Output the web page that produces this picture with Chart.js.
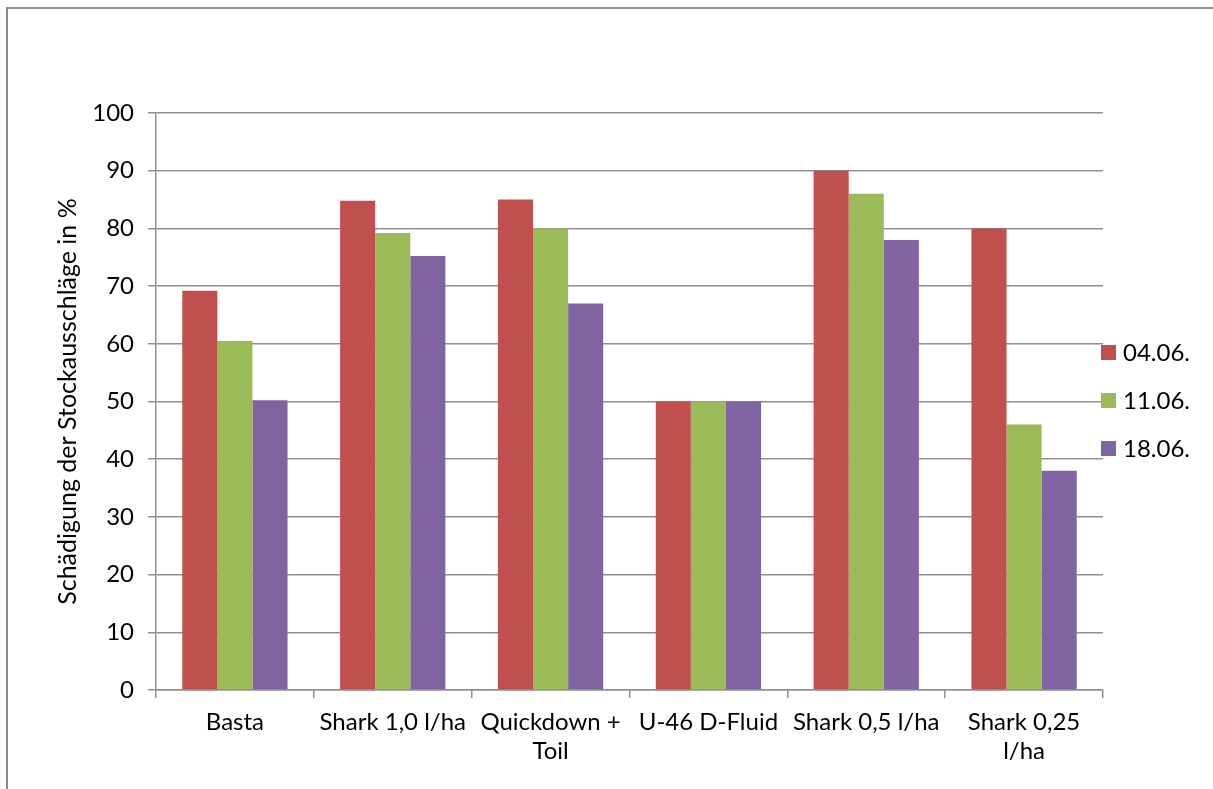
<!DOCTYPE html>
<html>
<head>
<meta charset="utf-8">
<script src="https://cdn.jsdelivr.net/npm/chart.js@4"></script>
<style>
    html, body { margin: 0; padding: 0; background: #fff; overflow: hidden; }
</style>
</head>
<body>
<canvas id="damageChart" width="1213" height="789"></canvas>
<script>
// Chart data
const categories = ['Basta', 'Shark 1,0 l/ha', ['Quickdown +', 'Toil'], 'U-46 D-Fluid', 'Shark 0,5 l/ha', ['Shark 0,25', 'l/ha']];
const seriesLabels = ['04.06.', '11.06.', '18.06.'];
const values0406 = [69.2, 84.8, 85, 50, 90, 80];
const values1106 = [60.5, 79.2, 80, 50, 86, 46];
const values1806 = [50.2, 75.2, 67, 50, 78, 38];
const yTicks = [0, 10, 20, 30, 40, 50, 60, 70, 80, 90, 100];

const colors = ['#C0504D', '#9BBB59', '#8064A2'];
const gridColor = '#909090';

Chart.defaults.font.family = 'Lato, "Open Sans", sans-serif';
Chart.defaults.font.size = 24;
Chart.defaults.color = '#000';

// Outer frame (only left and top edges are visible in the original)
const outerFrame = {
    id: 'outerFrame',
    beforeDraw(chart) {
        const ctx = chart.ctx;
        ctx.save();
        ctx.strokeStyle = '#8c8c8c';
        ctx.lineWidth = 2;
        ctx.beginPath();
        ctx.moveTo(7, chart.height + 5);
        ctx.lineTo(7, 8);
        ctx.lineTo(chart.width + 5, 8);
        ctx.stroke();
        ctx.restore();
    }
};

// Legend drawn next to the plot, like the original
const sideLegend = {
    id: 'sideLegend',
    afterDraw(chart) {
        const ctx = chart.ctx;
        const area = chart.chartArea;
        const cy = (area.top + area.bottom) / 2 - 1;
        ctx.save();
        ctx.font = '24px Lato, "Open Sans", sans-serif';
        ctx.textBaseline = 'middle';
        chart.data.datasets.forEach((ds, i) => {
            const y = cy + (i - 1) * 48;
            ctx.fillStyle = ds.backgroundColor;
            ctx.fillRect(area.right - 2, y - 7.5, 15, 15);
            ctx.fillStyle = '#000';
            ctx.fillText(ds.label, area.right + 20, y + 1);
        });
        ctx.restore();
    }
};

function initDamageChart() {
    const canvas = document.getElementById('damageChart');
    const ctx = canvas.getContext('2d');
    new Chart(ctx, {
        type: 'bar',
        data: {
            labels: categories,
            datasets: [
                { label: seriesLabels[0], data: values0406, backgroundColor: colors[0] },
                { label: seriesLabels[1], data: values1106, backgroundColor: colors[1] },
                { label: seriesLabels[2], data: values1806, backgroundColor: colors[2] }
            ]
        },
        options: {
            responsive: false,
            animation: false,
            layout: {
                padding: { left: 0, top: 113, right: 110, bottom: 0 }
            },
            datasets: {
                bar: {
                    categoryPercentage: 0.667,
                    barPercentage: 1,
                    borderWidth: 0
                }
            },
            plugins: {
                legend: { display: false },
                tooltip: { enabled: false }
            },
            scales: {
                x: {
                    grid: {
                        offset: true,
                        drawOnChartArea: false,
                        drawTicks: true,
                        tickLength: 8,
                        color: gridColor,
                        lineWidth: 1.5
                    },
                    border: { color: gridColor, width: 1.5 },
                    ticks: {
                        padding: 10,
                        maxRotation: 0,
                        autoSkip: false,
                        font: { size: 24, lineHeight: 1.2 }
                    },
                    afterFit: (scale) => { scale.height = 99; }
                },
                y: {
                    min: 0,
                    max: 100,
                    afterBuildTicks: (scale) => {
                        scale.ticks = yTicks.map(v => ({ value: v }));
                    },
                    grid: {
                        color: gridColor,
                        lineWidth: 1.5,
                        tickLength: 8
                    },
                    border: { color: gridColor, width: 1.5 },
                    ticks: {
                        padding: 14,
                        font: { size: 24 }
                    },
                    title: {
                        display: true,
                        text: 'Schädigung der Stockausschläge in %',
                        font: { size: 25, lineHeight: 1.2 },
                        padding: { top: 53, bottom: 0 }
                    },
                    afterFit: (scale) => { scale.width = 156; }
                }
            }
        },
        plugins: [outerFrame, sideLegend]
    });
}

document.addEventListener('DOMContentLoaded', initDamageChart);
</script>
</body>
</html>
